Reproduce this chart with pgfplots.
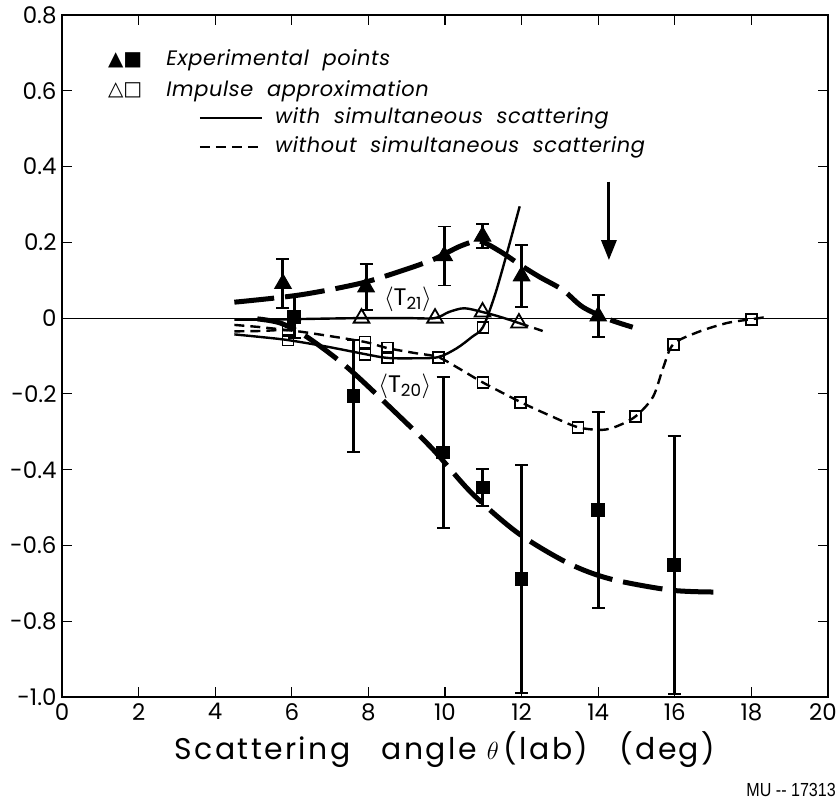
\documentclass[border=0pt]{standalone}
\usepackage{fontspec}
\setmainfont{Poppins}
\newfontfamily\symfont{DejaVu Sans}
\newfontfamily\mufont{Liberation Sans}
\usepackage{pgfplots}
\usepackage{pgfplotstable}
\pgfplotsset{compat=1.18}
\usetikzlibrary{arrows.meta}

% measured <T21>
\pgfplotstableread{
x     y      e
5.77  0.091  0.065
7.94  0.082  0.061
9.98  0.164  0.078
10.98 0.216  0.032
12.0  0.111  0.082
14.0  0.005  0.055
}\tOneExp
% measured <T20>
\pgfplotstableread{
x     y       e
6.06  0.003   0.055
7.61  -0.206  0.148
9.95  -0.355  0.199
10.99 -0.447  0.049
12.0  -0.689  0.301
14.0  -0.507  0.259
15.98 -0.652  0.340
}\tZeroExp
% impulse approximation, <T21>
\pgfplotstableread{
x     y
7.82  0.0
9.74  0.0
10.98 0.016
11.93 -0.013
}\tOneImp
% impulse approximation, <T20>
\pgfplotstableread{
x     y
5.90  -0.032
5.90  -0.058
7.91  -0.063
7.91  -0.095
8.49  -0.079
8.49  -0.105
9.82  -0.103
10.99 -0.024
10.99 -0.170
11.98 -0.222
13.47 -0.288
14.98 -0.259
15.96 -0.069
18.00 -0.003
}\tZeroImp

\begin{document}
\begin{tikzpicture}
\begin{axis}[
  at={(0,0)}, anchor=south west,
  scale only axis, width=766bp, height=682bp,
  xmin=0, xmax=20, ymin=-1, ymax=0.8,
  xtick={0,2,4,6,8,10,12,14,16,18,20},
  ytick={-1,-0.8,-0.6,-0.4,-0.2,0,0.2,0.4,0.6,0.8},
  yticklabels={-1.0,-0.8,-0.6,-0.4,-0.2,0,0.2,0.4,0.6,0.8},
  xticklabels={0,2,4,6,8,10,12,14,16,18,\kern-10bp 20},
  tick align=inside, major tick length=10bp,
  tick style={line width=1.2bp, black},
  axis line style={line width=2.2bp},
  ticklabel style={font=\fontsize{23}{27}\selectfont},
  yticklabel style={xshift=-2bp},
  xticklabel style={yshift=-3bp},
  xlabel={Scattering\ \ \ angle $\theta$\,(lab)\ \ \ (deg)},
  xlabel style={font=\fontsize{30}{34}\selectfont\addfontfeature{LetterSpace=8}, yshift=-4bp},
  clip=false,
]
% zero line
\addplot[line width=1bp] coordinates {(0,0) (20,0)};

% impulse approximation, with simultaneous scattering
\addplot[line width=2.4bp, smooth, tension=0.5] coordinates {
 (4.5,-0.004) (5.5,-0.004) (6.5,-0.002) (7.82,0) (9.0,0) (9.74,0)
 (10.1,0.016) (10.5,0.026) (10.98,0.016) (11.35,0.006) (11.7,-0.005) (11.93,-0.013)};
\addplot[line width=2.4bp, dash pattern=on 10bp off 6bp, smooth] coordinates {
 (11.93,-0.013) (12.2,-0.022) (12.55,-0.034)};
\addplot[line width=2.4bp, smooth, tension=0.5] coordinates {
 (4.5,-0.043) (5.2,-0.05) (5.9,-0.058) (6.9,-0.075) (7.91,-0.095) (8.49,-0.105)
 (9.2,-0.106) (9.82,-0.103) (10.3,-0.08) (10.7,-0.05) (10.99,-0.024)
 (11.3,0.06) (11.6,0.165) (11.95,0.295)};

% impulse approximation, without simultaneous scattering
\addplot[line width=2.4bp, dash pattern=on 10bp off 6bp, smooth] coordinates {
 (4.5,-0.018) (5.2,-0.024) (5.9,-0.032)};
\addplot[line width=2.4bp, dash pattern=on 10bp off 6bp, smooth, tension=0.5] coordinates {
 (4.5,-0.035) (5.2,-0.034) (5.9,-0.032) (6.9,-0.046) (7.91,-0.063) (8.49,-0.079)
 (9.2,-0.092) (9.82,-0.103) (10.4,-0.135) (10.99,-0.17) (11.98,-0.222)
 (12.8,-0.26) (13.47,-0.288) (14.1,-0.295) (14.5,-0.285) (14.98,-0.259)
 (15.43,-0.208) (15.7,-0.13) (15.96,-0.069) (16.6,-0.037) (17.36,-0.013)
 (18.0,-0.003) (18.4,0.003)};

% fits to the measured points
\addplot[line width=5bp, dash pattern=on 40bp off 11bp, smooth, tension=0.5] coordinates {
 (4.5,0.042) (6.2,0.061) (7.8,0.092) (8.9,0.126) (9.7,0.155) (10.4,0.19)
 (10.9,0.203) (11.44,0.176) (12.0,0.138) (12.48,0.108) (13.08,0.074)
 (13.6,0.029) (14.3,-0.004) (14.9,-0.024)};
\addplot[line width=5bp, dash pattern=on 40bp off 11bp, smooth, tension=0.5] coordinates {
 (5.1,-0.002) (5.7,-0.013) (6.4,-0.05) (7.47,-0.132) (8.83,-0.261) (9.7,-0.348)
 (10.7,-0.462) (11.9,-0.567) (13.2,-0.646) (14.3,-0.688) (15.9,-0.718) (17.1,-0.723)};

% impulse approximation points
\addplot[only marks, mark=triangle, mark size=9bp, mark options={line width=1.8bp, fill=white}]
  table[x=x, y=y] {\tOneImp};
\addplot[only marks, mark=square, mark size=5.5bp, mark options={line width=1.8bp, fill=white}]
  table[x=x, y=y] {\tZeroImp};

% measured points
\addplot[only marks, line width=3bp, mark=triangle*, mark size=9.5bp, mark options={fill=black, line width=1bp},
  error bars/.cd, y dir=both, y explicit,
  error bar style={line width=3bp},
  error mark options={rotate=90, mark size=6.5bp, line width=1.8bp}]
  table[x=x, y=y, y error=e] {\tOneExp};
\addplot[only marks, line width=3bp, mark=square*, mark size=6.3bp, mark options={fill=black, line width=1bp},
  error bars/.cd, y dir=both, y explicit,
  error bar style={line width=3bp},
  error mark options={rotate=90, mark size=6.5bp, line width=1.8bp}]
  table[x=x, y=y, y error=e] {\tZeroExp};

% curve labels and marker
\node[font=\fontsize{24}{28}\selectfont] at (axis cs:9.03,0.05) {$\langle$T\textsubscript{21}$\rangle$};
\node[font=\fontsize{24}{28}\selectfont] at (axis cs:8.95,-0.18) {$\langle$T\textsubscript{20}$\rangle$};
\draw[line width=3bp, -{Triangle[length=20bp, width=15bp]}] (axis cs:14.28,0.36) -- (axis cs:14.28,0.153);

% key
\node[anchor=west, font=\symfont\fontsize{20}{22}\selectfont, inner sep=0] at (axis cs:1.2,0.68) {▲■};
\node[anchor=west, font=\symfont\fontsize{20}{22}\selectfont, inner sep=0] at (axis cs:1.2,0.60) {△□};
\node[anchor=west, font=\itshape\fontsize{21}{24}\selectfont\addfontfeature{LetterSpace=3}, inner sep=0] at (axis cs:2.72,0.68) {Experimental\ \ points};
\node[anchor=west, font=\itshape\fontsize{21}{24}\selectfont\addfontfeature{LetterSpace=3}, inner sep=0] at (axis cs:2.72,0.60) {Impulse\ \ approximation};
\draw[line width=2.4bp] (axis cs:3.6,0.528) -- (axis cs:5.22,0.528);
\draw[line width=2.4bp, dash pattern=on 10bp off 6bp] (axis cs:3.6,0.451) -- (axis cs:5.22,0.451);
\node[anchor=west, font=\itshape\fontsize{21}{24}\selectfont\addfontfeature{LetterSpace=3}, inner sep=0] at (axis cs:5.56,0.528) {with\ \ simultaneous\ \ scattering};
\node[anchor=west, font=\itshape\fontsize{21}{24}\selectfont\addfontfeature{LetterSpace=3}, inner sep=0] at (axis cs:5.56,0.451) {without\ \ simultaneous\ \ scattering};
\end{axis}
\node[anchor=east, font=\mufont\fontsize{19}{21}\selectfont, inner sep=0, xscale=0.85] at (774bp,-93bp) {MU -- 17313};
\pgfresetboundingbox
\path[use as bounding box] (-62bp,-105bp) rectangle (777bp,697bp);
\end{tikzpicture}
\end{document}
